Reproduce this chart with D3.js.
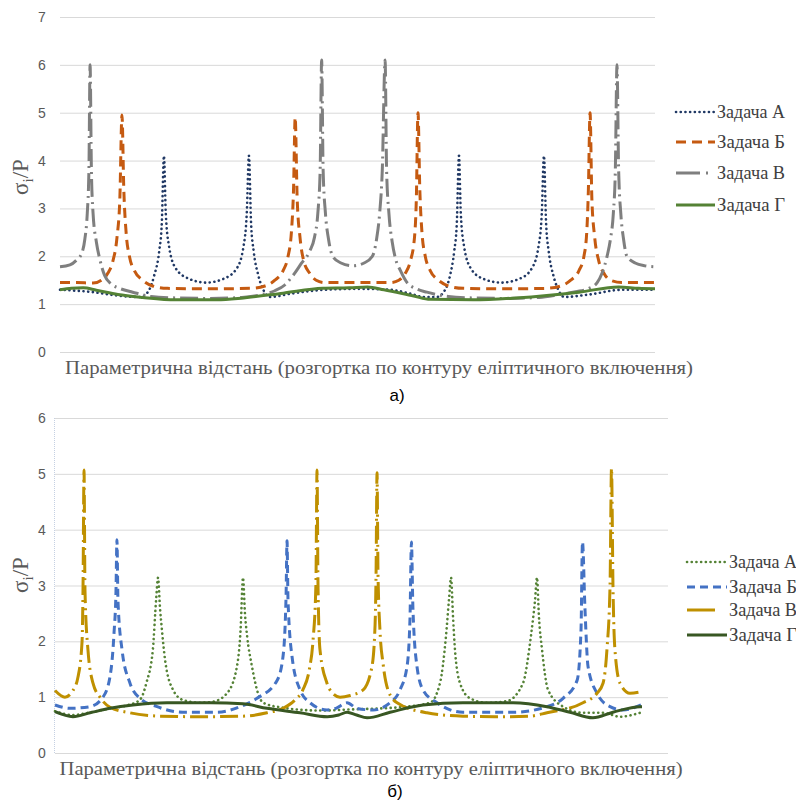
<!DOCTYPE html>
<html>
<head>
    <meta charset="utf-8">
    <title>σi/P - параметрична відстань</title>
    <style type="text/css">
        body {
            margin: 0;
            background-color: #fff;
        }
        .grid line {
            stroke: #d9d9d9;
            stroke-width: 1;
        }
        .tick-label {
            font-family: "Liberation Sans", Arial, sans-serif;
            font-size: 14px;
            fill: #595959;
        }
        .y-title {
            font-family: "Liberation Serif", "Times New Roman", serif;
            font-size: 23px;
            fill: #595959;
        }
        .x-title {
            font-family: "Liberation Serif", "Times New Roman", serif;
            font-size: 19px;
            fill: #595959;
        }
        .legend text {
            font-family: "Liberation Serif", "Times New Roman", serif;
            font-size: 18px;
            fill: #404040;
        }
        .caption {
            font-family: "Liberation Sans", Arial, sans-serif;
            font-size: 17px;
            fill: #000;
        }
    </style>
</head>
<body>

<script src="https://cdn.jsdelivr.net/npm/d3@7/dist/d3.min.js"></script>
<script type="text/javascript">
    // назви серій (легенда)
    var seriesNames = ["Задача А", "Задача Б", "Задача В", "Задача Г"];
    var topTicks = [0, 1, 2, 3, 4, 5, 6, 7];
    var bottomTicks = [0, 1, 2, 3, 4, 5, 6];

    // графік а) : [параметр (град), σi/P]
    var topA = [[0,1.3],[10,1.28],[20,1.25],[30,1.2],[40,1.16],[49,1.15],[54,1.3],[57,1.6],[60,2.1],[61.6,2.7],[62.9,4.1],[64,2.9],[66,2.2],[70,1.75],[78,1.53],[88.5,1.45],[99,1.53],[107,1.75],[111,2.2],[113,2.9],[114.3,4.1],[115.6,2.7],[117.2,2.1],[120,1.6],[123,1.3],[127,1.15],[140,1.22],[160,1.3],[180,1.32],[200,1.3],[212,1.22],[220,1.15],[228,1.15],[233,1.3],[236,1.6],[238.5,2.1],[240.1,2.7],[241.4,4.1],[242.5,2.9],[244.5,2.2],[248.5,1.75],[256,1.53],[267,1.45],[278,1.53],[285.5,1.75],[289.5,2.2],[291.5,2.9],[292.8,4.1],[294.1,2.7],[295.7,2.1],[298.5,1.6],[301.5,1.3],[305,1.15],[320,1.2],[340,1.3],[360,1.3]];
    var topB = [[0,1.45],[10,1.45],[20,1.44],[25,1.5],[29,1.65],[32,1.9],[34.5,2.4],[36.2,3.2],[37.5,4.95],[38.6,3.4],[40,2.5],[42,2.0],[45,1.7],[50,1.5],[56,1.38],[65,1.33],[89,1.32],[115,1.33],[124,1.38],[130,1.5],[135,1.7],[138,2.0],[140,2.5],[141.3,3.4],[142.3,4.9],[143.5,3.2],[145.2,2.4],[147.5,1.9],[151,1.65],[155,1.5],[160,1.45],[180,1.45],[200,1.45],[205,1.5],[209,1.65],[212,1.9],[214.5,2.4],[215.6,3.2],[216.6,5.0],[217.7,3.4],[219,2.5],[221,2.0],[224,1.7],[229,1.5],[235,1.38],[244,1.33],[268,1.32],[294,1.33],[303,1.38],[309,1.5],[314,1.7],[317,2.0],[318.7,2.5],[319.7,3.4],[320.7,5.0],[321.8,3.2],[323.5,2.4],[326,1.9],[329,1.65],[333,1.5],[340,1.45],[360,1.45]];
    var topV = [[0,1.78],[6,1.82],[10,1.92],[13,2.05],[15,2.35],[16.5,2.9],[17.5,3.8],[18.2,6.0],[19,3.8],[20,2.9],[22,2.3],[24,1.95],[27,1.6],[31,1.42],[36,1.33],[44,1.25],[55,1.16],[70,1.13],[90,1.12],[110,1.14],[122,1.2],[130,1.28],[136,1.4],[141,1.6],[146,1.85],[151,2.1],[154,2.4],[156,2.9],[157.4,3.8],[158.3,6.1],[159.2,3.8],[160.6,2.9],[162.5,2.35],[165,2.0],[170,1.86],[177,1.8],[184,1.86],[189,2.0],[191.5,2.35],[193.4,2.9],[195,3.8],[196.7,6.1],[197.6,3.8],[199,2.9],[201,2.3],[203,1.95],[206,1.7],[210,1.45],[215,1.33],[222,1.25],[235,1.16],[250,1.13],[270,1.12],[290,1.14],[302,1.2],[312,1.26],[320,1.33],[325,1.45],[328,1.65],[331,2.0],[333,2.35],[334.8,2.9],[336,3.8],[337,6.0],[338,3.8],[339.3,2.9],[341,2.35],[343,2.0],[348,1.86],[354,1.8],[360,1.78]];
    var topG = [[0,1.3],[7,1.33],[14,1.34],[22,1.29],[35,1.2],[50,1.14],[70,1.09],[95,1.09],[111,1.13],[135,1.23],[159,1.33],[175,1.34],[186,1.36],[196,1.3],[214,1.17],[224,1.1],[250,1.09],[276,1.13],[314,1.25],[338,1.36],[350,1.33],[360,1.32]];

    // графік б)
    var botA = [[0,0.75],[11,0.68],[22,0.73],[34,0.8],[45,0.86],[52,0.95],[56,1.25],[60,1.85],[62,2.74],[63.2,3.14],[64.4,2.6],[65.6,2.2],[67.5,1.67],[72.4,1.13],[78.5,0.95],[88.9,0.9],[96.9,0.92],[105.5,1.07],[111.6,1.55],[113.8,2.2],[115.3,3.14],[116.5,2.5],[117.8,2.1],[120.8,1.55],[124.5,1.07],[127.6,0.9],[138,0.82],[162.5,0.76],[181,0.78],[211.6,0.82],[230,0.9],[236.1,1.25],[239.8,2.1],[241.6,2.74],[242.9,3.14],[244.1,2.44],[245.3,1.85],[248.4,1.25],[254.5,0.98],[265,0.9],[277.2,0.93],[287,1.25],[291.9,2.1],[294.4,2.74],[295.6,3.14],[296.8,2.44],[298.7,1.85],[302.4,1.13],[311.6,0.83],[323.8,0.72],[336.1,0.72],[346.5,0.65],[358.8,0.72],[360,0.73]];
    var botB = [[0,0.86],[9.2,0.8],[21.5,0.83],[29.4,1.0],[33.7,1.36],[36.2,2.15],[37.4,2.9],[38,3.82],[38.6,2.74],[41.1,1.85],[46,1.25],[52.1,0.98],[62.6,0.83],[78.5,0.73],[99.4,0.73],[113.5,0.83],[123.9,0.98],[136.2,1.3],[139.8,1.72],[141.7,2.8],[142.3,3.8],[142.9,2.74],[145.4,1.72],[150.3,1.13],[156.4,0.9],[166.8,0.77],[172.3,0.8],[179.1,0.9],[185.2,0.8],[195,0.77],[205.5,0.9],[211.6,1.13],[215.9,1.55],[217.7,2.4],[218.6,3.78],[219.5,2.6],[222,1.55],[225.7,1.13],[234.3,0.9],[250.2,0.73],[280.9,0.73],[301.7,0.83],[311.6,0.98],[320.2,1.3],[322.6,2.2],[323.5,3.78],[325,2.6],[326.9,1.55],[332.4,1.07],[340.4,0.83],[348.4,0.77],[360,0.87]];
    var botV = [[0,1.12],[6.1,1.0],[11,1.12],[14.1,1.36],[16.6,2.0],[17.2,3.0],[17.8,5.07],[18.4,2.9],[20.2,1.85],[23.3,1.25],[27.6,1.0],[33.7,0.82],[46,0.72],[64.4,0.66],[89,0.65],[115.3,0.66],[130,0.72],[139.8,0.8],[147.2,0.95],[152,1.13],[156,1.5],[158.2,2.0],[160,3.0],[160.7,5.07],[161.3,3.0],[162.5,1.85],[166.8,1.25],[170,1.08],[174.8,1.0],[181,1.03],[189,1.13],[194.4,1.55],[196.3,2.3],[196.9,3.2],[197.5,5.02],[198.1,3.2],[199.3,2.2],[201.2,1.6],[204.2,1.13],[209.8,0.9],[228.1,0.72],[250.2,0.66],[273,0.65],[291.3,0.66],[301.7,0.72],[323.8,0.9],[332.4,1.07],[336.1,1.25],[338.5,1.85],[340.4,3.0],[341.3,5.1],[342.2,3.0],[343.4,1.85],[346.5,1.25],[352.6,1.07],[360,1.1]];
    var botG = [[0,0.74],[11,0.65],[21.5,0.72],[33.7,0.8],[47.8,0.86],[68.7,0.9],[95.6,0.9],[115.3,0.88],[130,0.8],[150.3,0.72],[167,0.65],[174,0.68],[179.1,0.73],[185,0.68],[191.4,0.63],[205.5,0.73],[225.7,0.86],[250.2,0.9],[280.9,0.9],[301.7,0.83],[315.8,0.73],[329.9,0.63],[342.2,0.73],[358.8,0.83],[360,0.83]];

    var svg = d3.select("body")
        .append("svg")
        .attr("width", 796)
        .attr("height", 800);

    function drawChart(cfg) {
        var x = d3.scaleLinear().domain([0, 360]).range([cfg.left, cfg.dataRight]);
        var y = d3.scaleLinear().domain([0, d3.max(cfg.ticks)]).range([cfg.bottom, cfg.top]);
        var g = svg.append("g");

        // сітка
        g.append("g").attr("class", "grid")
            .selectAll("line")
            .data(cfg.ticks)
            .enter()
            .append("line")
            .attr("x1", cfg.left)
            .attr("x2", cfg.gridRight)
            .attr("y1", function (d) { return y(d) + 0.5; })
            .attr("y2", function (d) { return y(d) + 0.5; });

        if (cfg.axisLine) {
            g.append("line")
                .attr("x1", cfg.left - 0.5).attr("x2", cfg.left - 0.5)
                .attr("y1", cfg.top).attr("y2", cfg.bottom)
                .attr("stroke", "#c5d0e2")
                .attr("stroke-dasharray", "1 1");
        }

        // підписи осі Y
        g.selectAll(".tick-label")
            .data(cfg.ticks)
            .enter()
            .append("text")
            .attr("class", "tick-label")
            .attr("x", 42)
            .attr("y", function (d) { return y(d) + 5; })
            .attr("text-anchor", "middle")
            .text(function (d) { return d; });

        var line = d3.line()
            .x(function (d) { return x(d[0]); })
            .y(function (d) { return y(d[1]); })
            .curve(d3.curveMonotoneX);

        g.selectAll(".series")
            .data(cfg.series)
            .enter()
            .append("path")
            .attr("class", "series")
            .attr("d", function (s) { return line(s.values); })
            .attr("fill", "none")
            .attr("stroke", function (s) { return s.color; })
            .attr("stroke-width", function (s) { return s.width; })
            .attr("stroke-dasharray", function (s) { return s.dash; })
            .attr("stroke-linecap", function (s) { return s.cap; });

        // назва осі Y
        var yt = g.append("text")
            .attr("class", "y-title")
            .attr("transform", "translate(28," + cfg.yTitleY + ") rotate(-90)")
            .attr("text-anchor", "middle");
        yt.append("tspan").text("σ");
        yt.append("tspan").attr("dy", 5).attr("font-size", "15px").text("i");
        yt.append("tspan").attr("dy", -5).text("/P");

        g.append("text")
            .attr("class", "x-title")
            .attr("x", cfg.xTitleX)
            .attr("y", cfg.xTitleY)
            .attr("text-anchor", "middle")
            .attr("textLength", cfg.xTitleLen)
            .attr("lengthAdjust", "spacingAndGlyphs")
            .text("Параметрична відстань (розгортка по контуру еліптичного включення)");

        g.append("text")
            .attr("class", "caption")
            .attr("x", cfg.captionX)
            .attr("y", cfg.captionY)
            .attr("text-anchor", "middle")
            .text(cfg.caption);

        // легенда
        var lg = g.append("g").attr("class", "legend");
        var items = lg.selectAll("g")
            .data(cfg.series)
            .enter()
            .append("g")
            .attr("transform", function (s, i) { return "translate(0," + cfg.legendY[i] + ")"; });
        items.append("line")
            .attr("x1", cfg.legendX).attr("x2", cfg.legendX + cfg.legendLen)
            .attr("y1", 0).attr("y2", 0)
            .attr("stroke", function (s) { return s.color; })
            .attr("stroke-width", function (s) { return s.width; })
            .attr("stroke-dasharray", function (s) { return s.legendDash || s.dash; })
            .attr("stroke-linecap", function (s) { return s.cap; });
        items.append("text")
            .attr("x", cfg.legendX + cfg.legendLen + 2)
            .attr("y", 6)
            .attr("textLength", 68)
            .attr("lengthAdjust", "spacingAndGlyphs")
            .text(function (s) { return s.name; });
    }

    drawChart({
        left: 60, dataRight: 655, gridRight: 655, top: 17, bottom: 352,
        ticks: topTicks, axisLine: false,
        yTitleY: 177, xTitleX: 379, xTitleY: 374, xTitleLen: 628,
        caption: "а)", captionX: 397, captionY: 401,
        legendX: 676, legendLen: 39, legendY: [112, 142, 173, 205],
        series: [
            { name: seriesNames[0], values: topA, color: "#203864", width: 2.6, dash: "0.1 4.6", cap: "round" },
            { name: seriesNames[1], values: topB, color: "#c55a11", width: 3, dash: "10 6", cap: "butt" },
            { name: seriesNames[2], values: topV, color: "#7f7f7f", width: 3, dash: "18 5 2 5", cap: "butt", legendDash: "24 6 2 20" },
            { name: seriesNames[3], values: topG, color: "#548235", width: 3, dash: null, cap: "butt" }
        ]
    });

    drawChart({
        left: 55, dataRight: 642, gridRight: 668, top: 418, bottom: 753,
        ticks: bottomTicks, axisLine: true,
        yTitleY: 575, xTitleX: 371, xTitleY: 775, xTitleLen: 623,
        caption: "б)", captionX: 395, captionY: 797,
        legendX: 687, legendLen: 40, legendY: [562, 587, 610, 635],
        series: [
            { name: seriesNames[0], values: botA, color: "#548235", width: 2.6, dash: "0.1 4.6", cap: "round" },
            { name: seriesNames[1], values: botB, color: "#4472c4", width: 3, dash: "8 5", cap: "butt" },
            { name: seriesNames[2], values: botV, color: "#bf9000", width: 3, dash: "18 5 2 5", cap: "butt", legendDash: "28 30" },
            { name: seriesNames[3], values: botG, color: "#385723", width: 3, dash: null, cap: "butt" }
        ]
    });
</script>
</body>
</html>
